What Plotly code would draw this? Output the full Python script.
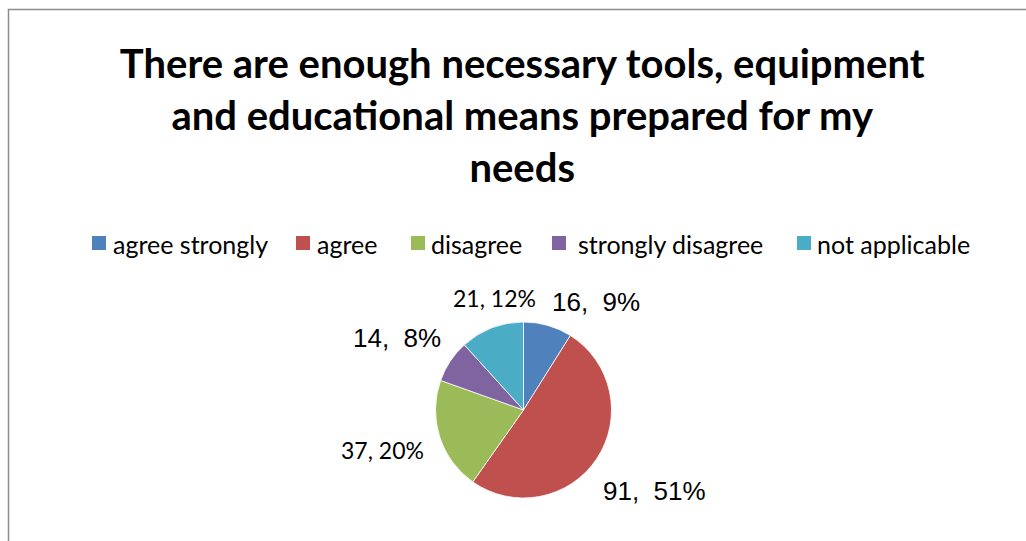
import plotly.graph_objects as go

# Survey responses
categories = ["agree strongly", "agree", "disagree", "strongly disagree", "not applicable"]
counts = [16, 91, 37, 14, 21]
percent_labels = ["9%", "51%", "20%", "8%", "12%"]
colors = ["#4F81BD", "#C0504D", "#9BBB59", "#8064A2", "#4BACC6"]

W, H = 1026, 541

# pie geometry (pixels)
cx, cy, r = 523.5, 410, 88

fig = go.Figure(go.Pie(
    labels=categories,
    values=counts,
    sort=False,
    direction="clockwise",
    rotation=0,
    textinfo="none",
    hoverinfo="label+value+percent",
    showlegend=False,
    marker=dict(colors=colors, line=dict(color="white", width=0.8)),
    domain=dict(x=[(cx - r) / W, (cx + r) / W], y=[1 - (cy + r) / H, 1 - (cy - r) / H]),
))

# data labels: (separator, font family, font size, x, y) per slice
ARIAL = "Liberation Sans, Arial"
SANS = "Lato"
label_style = [
    (",  ", ARIAL, 26, 596, 302),
    (",  ", ARIAL, 26, 654.5, 490.5),
    (", ", SANS, 23, 382.5, 450),
    (",  ", ARIAL, 26, 396.5, 338),
    (", ", SANS, 23, 494.5, 298),
]


def px(x):
    return x / W


def py(y):
    return 1 - y / H


annotations = []
for n, p, (sep, fam, fs, x, y) in zip(counts, percent_labels, label_style):
    annotations.append(dict(
        text=f"{n}{sep}{p}", x=px(x), y=py(y), xref="paper", yref="paper",
        showarrow=False, xanchor="center", yanchor="middle",
        font=dict(family=fam, size=fs, color="#000"),
    ))

# legend row laid out by hand: (swatch left, text left) per entry
legend_slots = [(92, 111), (296, 315), (411, 429), (552, 576), (797, 815)]
shapes = []
for name, col, (sx, tx) in zip(categories, colors, legend_slots):
    shapes.append(dict(
        type="rect", xref="paper", yref="paper",
        x0=px(sx), x1=px(sx + 14), y0=py(250), y1=py(236),
        fillcolor=col, line=dict(width=0),
    ))
    annotations.append(dict(
        text=name, x=px(tx), y=py(244), xref="paper", yref="paper",
        showarrow=False, xanchor="left", yanchor="middle",
        font=dict(family="Lato", size=25, color="#000"),
    ))

# chart area border
shapes.append(dict(
    type="rect", xref="paper", yref="paper",
    x0=px(8.5), x1=1.02, y0=-0.02, y1=py(9.5),
    line=dict(color="#8c8c8c", width=1.5),
))

fig.update_layout(
    width=W, height=H,
    margin=dict(l=0, r=0, t=0, b=0),
    paper_bgcolor="white",
    plot_bgcolor="white",
    showlegend=False,
    title=dict(
        text="There are enough necessary tools, equipment<br>and educational means prepared for my<br>needs",
        x=0.509, xanchor="center", y=py(78), yanchor="top",
        font=dict(family="Lato", size=40, color="#000", weight="bold"),
    ),
    annotations=annotations,
    shapes=shapes,
)

fig.write_html("out.html")
